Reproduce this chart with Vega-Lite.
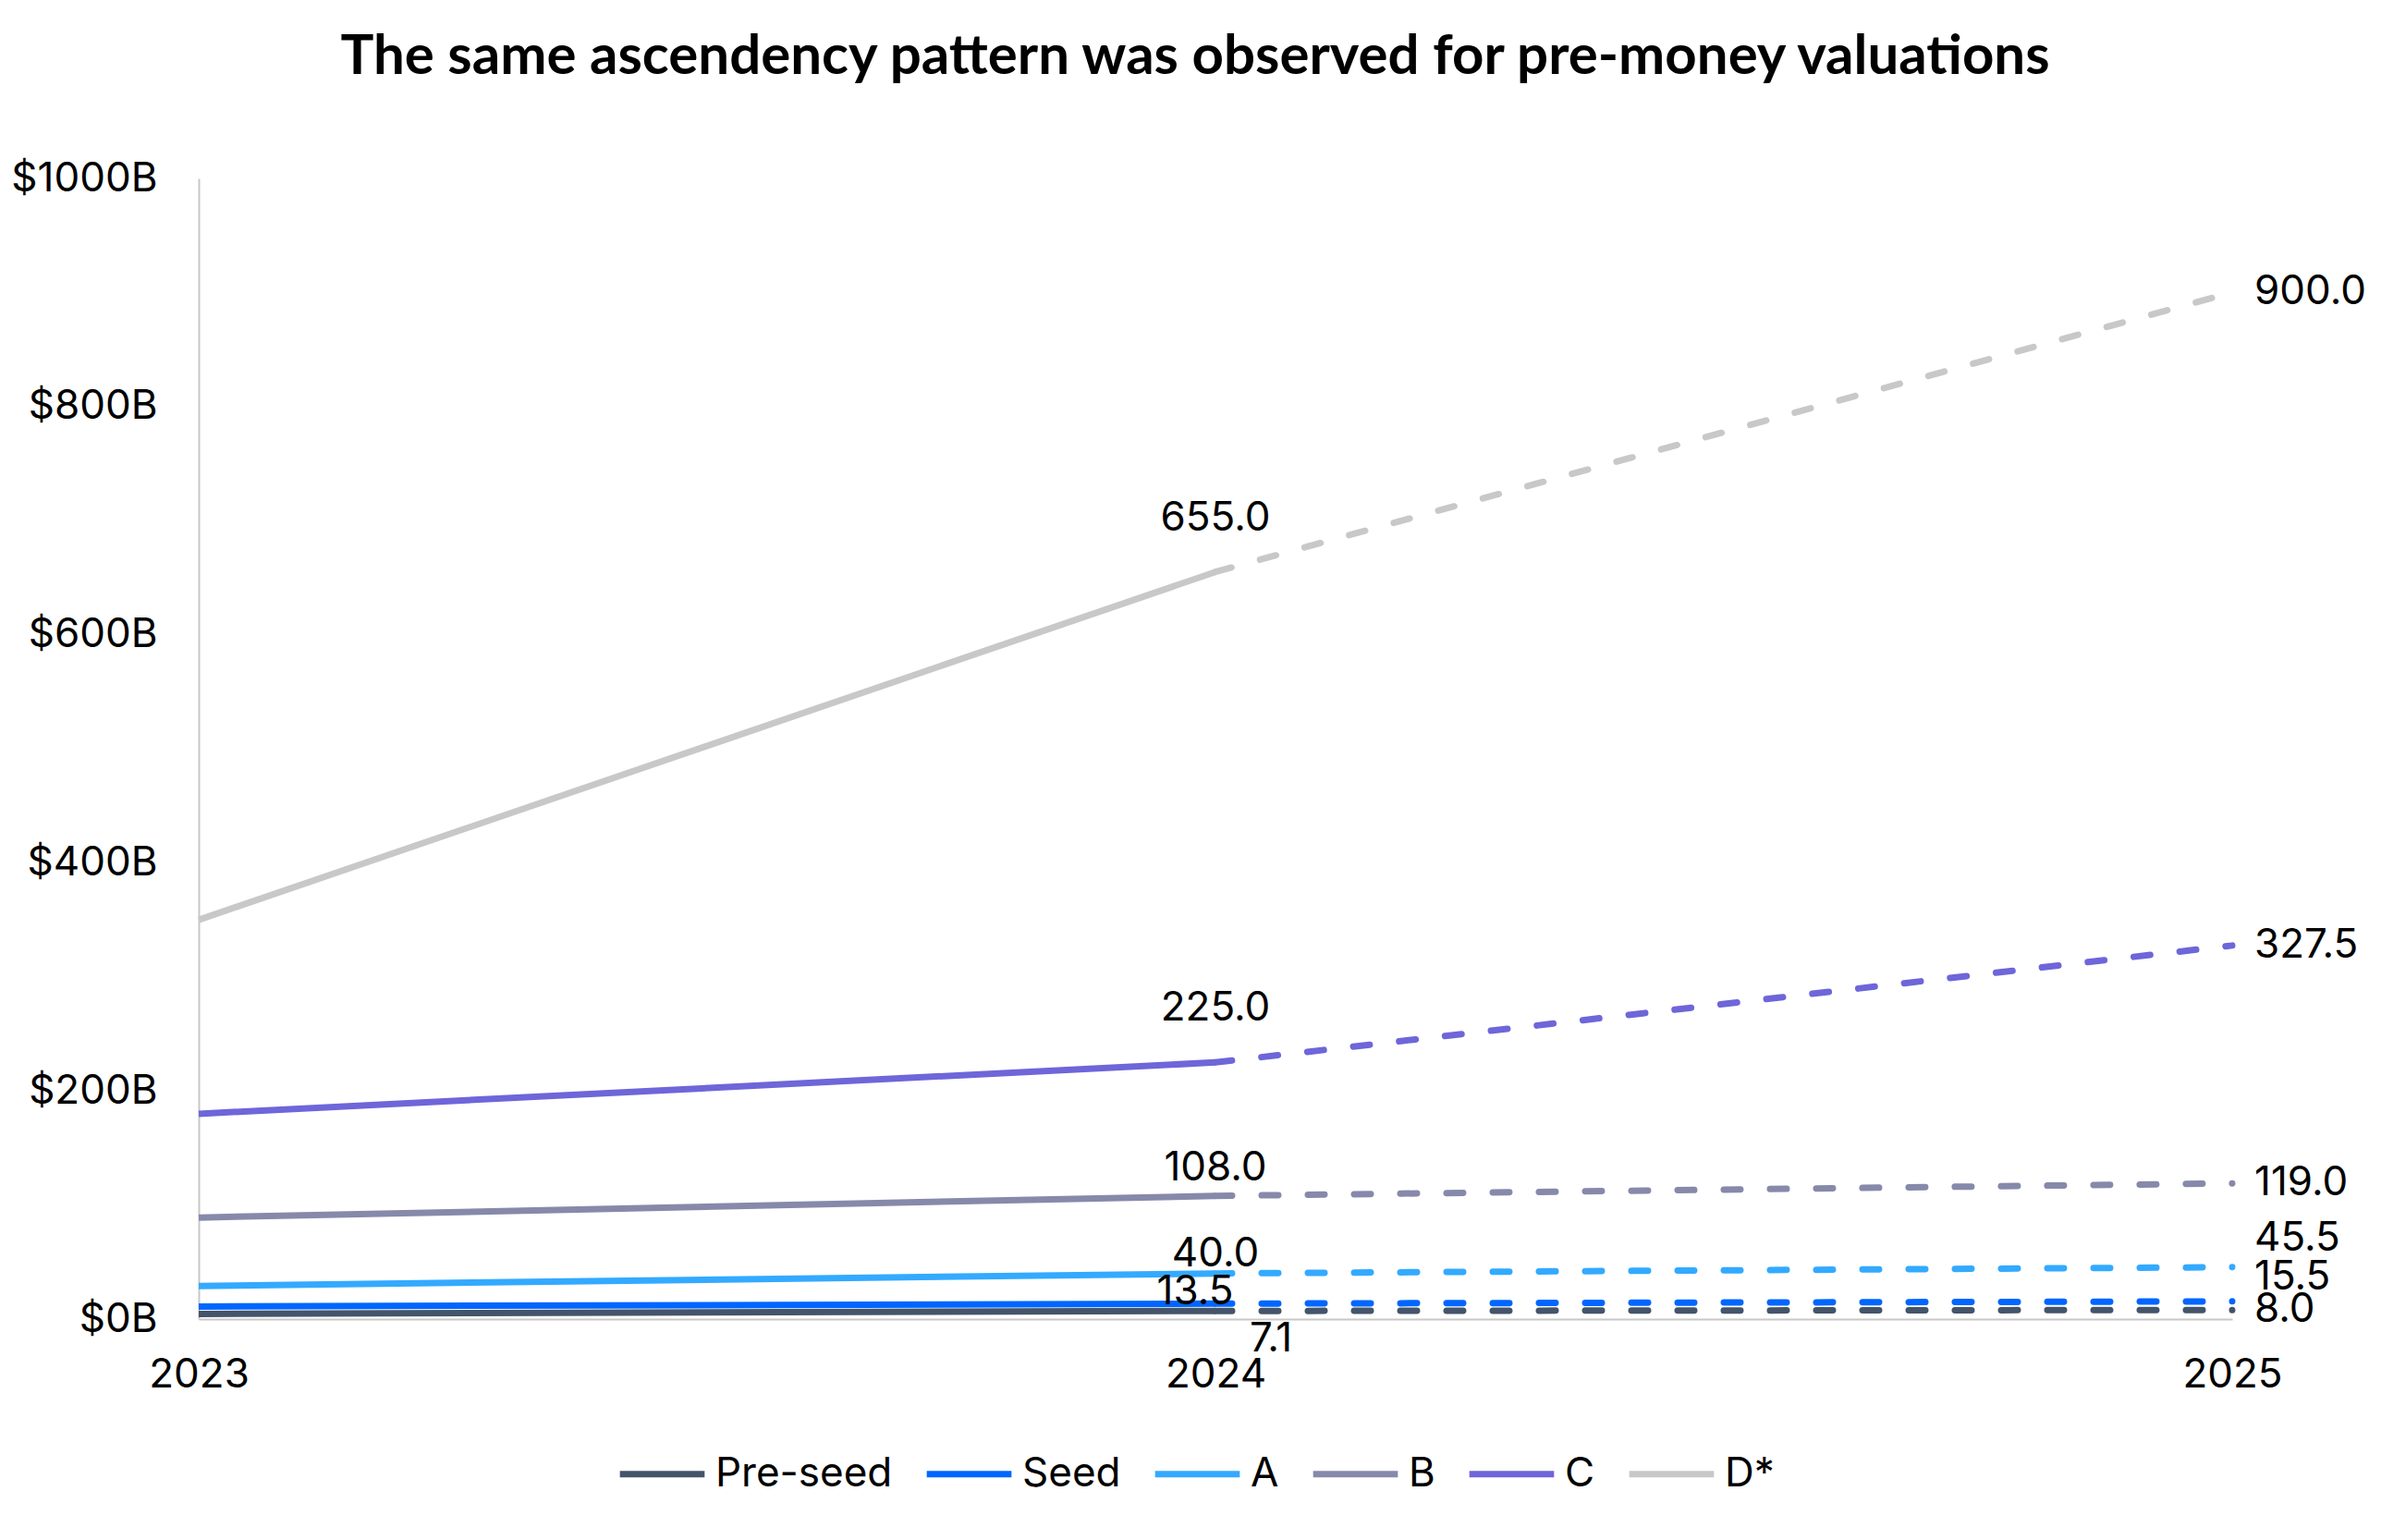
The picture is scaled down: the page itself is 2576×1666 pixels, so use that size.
{
  "$schema": "https://vega.github.io/schema/vega-lite/v6.json",
  "autosize": {"type": "none"},
  "padding": {"left": 215, "top": 193, "right": 161, "bottom": 239},
  "width": 2200,
  "height": 1234,
  "background": "white",
  "view": {"stroke": null},
  "title": {
    "text": "The same ascendency pattern was observed for pre-money valuations",
    "font": "Lato",
    "fontSize": 60,
    "fontWeight": "bold",
    "color": "black",
    "anchor": "middle",
    "dx": -22,
    "offset": 78
  },
  "data": {
    "values": [
      {"series": "Pre-seed", "year": 2023, "value": 4.5},
      {"series": "Pre-seed", "year": 2024, "value": 7.1},
      {"series": "Pre-seed", "year": 2025, "value": 8.0},
      {"series": "Seed", "year": 2023, "value": 11},
      {"series": "Seed", "year": 2024, "value": 13.5},
      {"series": "Seed", "year": 2025, "value": 15.5},
      {"series": "A", "year": 2023, "value": 29},
      {"series": "A", "year": 2024, "value": 40},
      {"series": "A", "year": 2025, "value": 45.5},
      {"series": "B", "year": 2023, "value": 89},
      {"series": "B", "year": 2024, "value": 108},
      {"series": "B", "year": 2025, "value": 119},
      {"series": "C", "year": 2023, "value": 180},
      {"series": "C", "year": 2024, "value": 225},
      {"series": "C", "year": 2025, "value": 327.5},
      {"series": "D*", "year": 2023, "value": 350},
      {"series": "D*", "year": 2024, "value": 655},
      {"series": "D*", "year": 2025, "value": 900}
    ]
  },
  "encoding": {
    "x": {
      "field": "year",
      "type": "ordinal",
      "scale": {"type": "point", "padding": 0},
      "axis": {
        "title": null,
        "labelAngle": 0,
        "ticks": false,
        "domainColor": "#c8c8c8",
        "domainWidth": 2,
        "labelFont": "Inter",
        "labelFontSize": 44,
        "labelColor": "black",
        "labelPadding": 38
      }
    },
    "y": {
      "field": "value",
      "type": "quantitative",
      "scale": {"domain": [0, 1000], "nice": false},
      "axis": {
        "title": null,
        "values": [0, 200, 400, 600, 800, 1000],
        "labelExpr": "'$' + datum.value + 'B'",
        "grid": false,
        "ticks": false,
        "domainColor": "#c8c8c8",
        "domainWidth": 2,
        "labelFont": "Inter",
        "labelFontSize": 44,
        "labelColor": "black",
        "labelPadding": 45
      }
    }
  },
  "layer": [
    {
      "transform": [{"filter": "datum.year <= 2024"}],
      "mark": {"type": "line", "strokeWidth": 7},
      "encoding": {
        "color": {
          "field": "series",
          "type": "nominal",
          "scale": {
            "domain": ["Pre-seed", "Seed", "A", "B", "C", "D*"],
            "range": ["#44546a", "#0066ff", "#33aaff", "#8789ab", "#6e66d9", "#c8c8c8"]
          },
          "legend": {
            "title": null,
            "orient": "none",
            "direction": "horizontal",
            "legendX": 452,
            "legendY": 1352,
            "symbolType": "stroke",
            "symbolSize": 8400,
            "symbolStrokeWidth": 7,
            "labelFont": "Inter",
            "labelFontSize": 44,
            "labelColor": "black",
            "labelLimit": 400,
            "labelOffset": 8,
            "columnPadding": 22,
            "symbolDash": []
          }
        }
      }
    },
    {
      "transform": [{"filter": "datum.year >= 2024"}],
      "mark": {"type": "line", "strokeWidth": 7, "strokeDash": [18, 32], "strokeCap": "round"},
      "encoding": {
        "color": {"field": "series", "type": "nominal", "legend": null}
      }
    },
    {
      "transform": [{"filter": "datum.year == 2024 && (datum.series == 'D*' || datum.series == 'C')"}],
      "mark": {"type": "text", "font": "Inter", "fontSize": 44, "color": "black", "dy": -58},
      "encoding": {"text": {"field": "value", "type": "quantitative", "format": ".1f"}}
    },
    {
      "transform": [{"filter": "datum.year == 2024 && datum.series == 'B'"}],
      "mark": {"type": "text", "font": "Inter", "fontSize": 44, "color": "black", "dy": -30},
      "encoding": {"text": {"field": "value", "type": "quantitative", "format": ".1f"}}
    },
    {
      "transform": [{"filter": "datum.year == 2024 && datum.series == 'A'"}],
      "mark": {"type": "text", "font": "Inter", "fontSize": 44, "color": "black", "dy": -21},
      "encoding": {"text": {"field": "value", "type": "quantitative", "format": ".1f"}}
    },
    {
      "transform": [{"filter": "datum.year == 2024 && datum.series == 'Seed'"}],
      "mark": {"type": "text", "font": "Inter", "fontSize": 44, "color": "black", "dy": -12, "dx": -22},
      "encoding": {"text": {"field": "value", "type": "quantitative", "format": ".1f"}}
    },
    {
      "transform": [{"filter": "datum.year == 2024 && datum.series == 'Pre-seed'"}],
      "mark": {"type": "text", "font": "Inter", "fontSize": 44, "color": "black", "dy": 31, "dx": 60},
      "encoding": {"text": {"field": "value", "type": "quantitative", "format": ".1f"}}
    },
    {
      "transform": [{"filter": "datum.year == 2025 && datum.series != 'A' && datum.series != 'Seed'"}],
      "mark": {"type": "text", "font": "Inter", "fontSize": 44, "color": "black", "align": "left", "dx": 24},
      "encoding": {"text": {"field": "value", "type": "quantitative", "format": ".1f"}}
    },
    {
      "transform": [{"filter": "datum.year == 2025 && datum.series == 'A'"}],
      "mark": {"type": "text", "font": "Inter", "fontSize": 44, "color": "black", "align": "left", "dx": 24, "dy": -31},
      "encoding": {"text": {"field": "value", "type": "quantitative", "format": ".1f"}}
    },
    {
      "transform": [{"filter": "datum.year == 2025 && datum.series == 'Seed'"}],
      "mark": {"type": "text", "font": "Inter", "fontSize": 44, "color": "black", "align": "left", "dx": 24, "dy": -26},
      "encoding": {"text": {"field": "value", "type": "quantitative", "format": ".1f"}}
    }
  ]
}
